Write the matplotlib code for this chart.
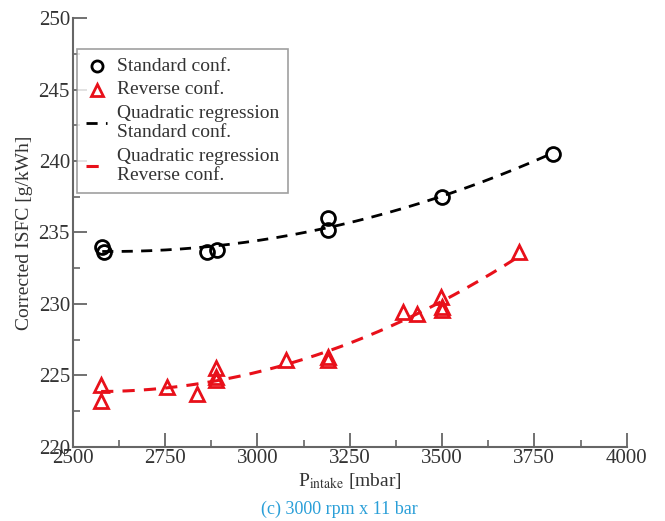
import numpy as np
import matplotlib.pyplot as plt
from matplotlib.ticker import MultipleLocator

plt.rcParams['font.family'] = ['Liberation Serif', 'DejaVu Serif']
plt.rcParams['mathtext.fontset'] = 'stix'

# Standard configuration measurements
p_std = [2580, 2585, 2865, 2890, 3190, 3190, 3500, 3800]
isfc_std = [234.0, 233.6, 233.6, 233.8, 235.2, 236.0, 237.5, 240.5]

# Reverse configuration measurements
p_rev = [2577, 2577, 2756, 2837, 2888, 2888, 2888, 3078, 3190, 3192,
         3395, 3432, 3497, 3500, 3500, 3708]
isfc_rev = [224.3, 223.2, 224.2, 223.7, 225.5, 224.9, 224.7, 226.1, 226.3, 226.1,
            229.4, 229.3, 230.5, 229.8, 229.6, 233.6]

x_ticks = [2500, 2750, 3000, 3250, 3500, 3750, 4000]
y_ticks = [220, 225, 230, 235, 240, 245, 250]

fig = plt.figure(figsize=(6.65, 5.21), dpi=100)
ax = fig.add_axes([0.1093, 0.1426, 0.8331, 0.8223])

# quadratic regression for each configuration
c_std = np.polyfit(p_std, isfc_std, 2)
c_rev = np.polyfit(p_rev, isfc_rev, 2)
xs_std = np.linspace(min(p_std), max(p_std), 200)
xs_rev = np.linspace(min(p_rev), max(p_rev), 200)

ax.plot(p_std, isfc_std, 'o', ms=10, mfc='none', mec='black', mew=2,
        label='Standard conf.', zorder=3)
ax.plot(p_rev, isfc_rev, '^', ms=10, mfc='none', mec='#e8101a', mew=2,
        label='Reverse conf.', zorder=3)
ax.plot(xs_std, np.polyval(c_std, xs_std), '--', color='black', lw=2,
        dashes=(4, 3), label='Quadratic regression\nStandard conf.')
ax.plot(xs_rev, np.polyval(c_rev, xs_rev), '--', color='#e8101a', lw=2.2,
        dashes=(4, 3), label='Quadratic regression\nReverse conf.')

ax.set_xlim(2500, 4000)
ax.set_ylim(220, 250)
ax.set_xticks(x_ticks)
ax.set_yticks(y_ticks)
ax.xaxis.set_minor_locator(MultipleLocator(125))
ax.yaxis.set_minor_locator(MultipleLocator(2.5))

for s in ['top', 'right']:
    ax.spines[s].set_visible(False)
for s in ['left', 'bottom']:
    ax.spines[s].set_color('#666666')
    ax.spines[s].set_linewidth(1.5)

ax.tick_params(which='major', direction='in', length=10, width=1.3,
               colors='#666666', labelcolor='#333333', labelsize=15, pad=2)
ax.tick_params(which='minor', direction='in', length=5, width=1.2,
               colors='#666666')

ax.set_xlabel(r'P$_{\rm intake}$ [mbar]', fontsize=14, color='#333333', labelpad=2)
ax.set_ylabel('Corrected ISFC [g/kWh]', fontsize=14, color='#333333', labelpad=4)

leg = ax.legend(loc='upper left', bbox_to_anchor=(0.008, 0.928), fontsize=14,
                frameon=True, fancybox=False, handlelength=1.1,
                handletextpad=0.5, labelspacing=0.33, borderpad=0.45,
                borderaxespad=0, markerscale=0.8)
leg.get_frame().set_edgecolor('#888888')
leg.get_frame().set_linewidth(1.2)
for t in leg.get_texts():
    t.set_color('#333333')
# centre the handles against the two-line labels
for col in leg._legend_handle_box.get_children():
    for row in col.get_children():
        row.align = 'center'

fig.text(0.51, 0.005, '(c) 3000 rpm x 11 bar', ha='center', va='bottom',
         fontsize=13, color='#2a9fd8')

fig.savefig('out.png', dpi=100)
